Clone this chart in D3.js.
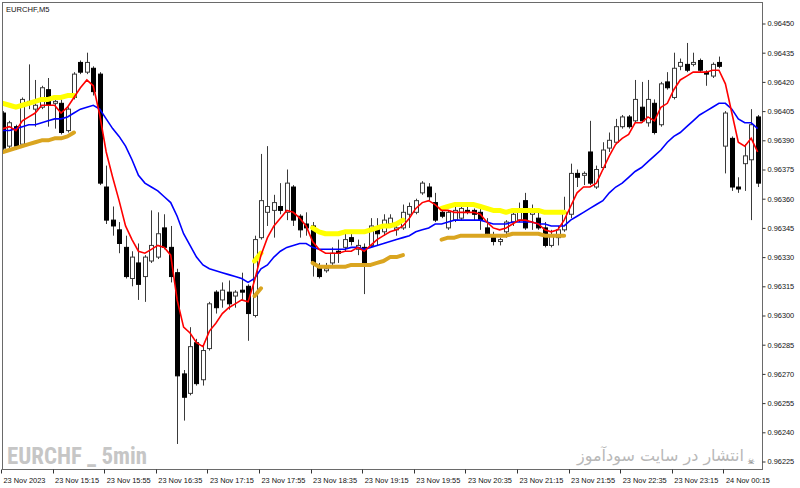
<!DOCTYPE html>
<html><head><meta charset="utf-8">
<script src="https://cdn.jsdelivr.net/npm/d3@7"></script>
<style>body{margin:0;background:#fff}svg{display:block}</style>
</head><body>
<svg id="chart" width="800" height="488"></svg>
<script>
// ---- DATA (EURCHF, M5) ----
const symbolTitle = "EURCHF,M5";
const open = [0.96404,0.96387,0.96397,0.96388,0.96409,0.96406,0.96407,0.96416,0.96409,0.96409,0.96395,0.96412,0.96430,0.96425,0.96427,0.96424,0.96366,0.96349,0.96344,0.96335,0.96319,0.96327,0.96320,0.96328,0.96330,0.96345,0.96335,0.96322,0.96270,0.96260,0.96286,0.96267,0.96283,0.96312,0.96308,0.96312,0.96310,0.96313,0.96315,0.96300,0.96340,0.96353,0.96354,0.96356,0.96353,0.96366,0.96351,0.96347,0.96346,0.96325,0.96323,0.96327,0.96333,0.96335,0.96340,0.96334,0.96335,0.96336,0.96345,0.96343,0.96347,0.96344,0.96345,0.96352,0.96353,0.96363,0.96366,0.96358,0.96353,0.96345,0.96349,0.96350,0.96354,0.96354,0.96353,0.96345,0.96340,0.96338,0.96343,0.96348,0.96349,0.96359,0.96352,0.96350,0.96345,0.96336,0.96340,0.96344,0.96352,0.96373,0.96372,0.96384,0.96366,0.96376,0.96386,0.96389,0.96397,0.96402,0.96400,0.96407,0.96399,0.96409,0.96398,0.96420,0.96412,0.96428,0.96429,0.96429,0.96431,0.96425,0.96423,0.96430,0.96387,0.96391,0.96366,0.96378,0.96380,0.96402];
const high = [0.96405,0.96400,0.96398,0.96412,0.96429,0.96421,0.96418,0.96422,0.96413,0.96411,0.96407,0.96425,0.96431,0.96435,0.96428,0.96425,0.96377,0.96356,0.96348,0.96341,0.96333,0.96337,0.96331,0.96354,0.96353,0.96352,0.96346,0.96324,0.96272,0.96294,0.96288,0.96285,0.96307,0.96313,0.96317,0.96318,0.96313,0.96322,0.96316,0.96341,0.96383,0.96387,0.96362,0.96368,0.96375,0.96367,0.96352,0.96353,0.96348,0.96327,0.96327,0.96335,0.96339,0.96342,0.96342,0.96339,0.96337,0.96350,0.96350,0.96352,0.96352,0.96348,0.96357,0.96358,0.96360,0.96369,0.96368,0.96363,0.96355,0.96354,0.96357,0.96357,0.96357,0.96355,0.96355,0.96350,0.96343,0.96340,0.96349,0.96354,0.96358,0.96363,0.96357,0.96353,0.96348,0.96344,0.96346,0.96361,0.96378,0.96375,0.96374,0.96400,0.96377,0.96389,0.96394,0.96401,0.96403,0.96403,0.96421,0.96420,0.96421,0.96411,0.96420,0.96425,0.96435,0.96432,0.96440,0.96435,0.96432,0.96426,0.96430,0.96433,0.96405,0.96392,0.96371,0.96388,0.96406,0.96403];
const low = [0.96385,0.96386,0.96385,0.96387,0.96406,0.96397,0.96406,0.96397,0.96396,0.96393,0.96394,0.96411,0.96424,0.96424,0.96413,0.96367,0.96347,0.96341,0.96332,0.96319,0.96315,0.96308,0.96307,0.96327,0.96329,0.96334,0.96317,0.96234,0.96246,0.96259,0.96264,0.96264,0.96282,0.96301,0.96304,0.96303,0.96304,0.96308,0.96287,0.96299,0.96339,0.96346,0.96340,0.96352,0.96349,0.96346,0.96340,0.96341,0.96320,0.96319,0.96322,0.96326,0.96327,0.96333,0.96336,0.96331,0.96311,0.96335,0.96336,0.96341,0.96345,0.96341,0.96344,0.96345,0.96352,0.96362,0.96359,0.96348,0.96350,0.96344,0.96348,0.96349,0.96352,0.96349,0.96344,0.96341,0.96336,0.96336,0.96340,0.96346,0.96348,0.96344,0.96344,0.96344,0.96335,0.96335,0.96336,0.96343,0.96350,0.96366,0.96367,0.96367,0.96365,0.96375,0.96384,0.96388,0.96396,0.96396,0.96399,0.96399,0.96397,0.96393,0.96397,0.96416,0.96411,0.96426,0.96425,0.96428,0.96425,0.96418,0.96422,0.96427,0.96373,0.96364,0.96363,0.96364,0.96349,0.96366];
const close = [0.96386,0.96399,0.96387,0.96411,0.96410,0.96408,0.96417,0.96408,0.96410,0.96394,0.96406,0.96424,0.96425,0.96430,0.96415,0.96368,0.96349,0.96346,0.96337,0.96320,0.96330,0.96316,0.96330,0.96336,0.96342,0.96335,0.96320,0.96269,0.96258,0.96284,0.96265,0.96282,0.96306,0.96304,0.96313,0.96306,0.96312,0.96312,0.96301,0.96339,0.96359,0.96356,0.96358,0.96354,0.96368,0.96349,0.96344,0.96345,0.96327,0.96320,0.96324,0.96332,0.96332,0.96339,0.96338,0.96336,0.96327,0.96346,0.96342,0.96349,0.96350,0.96345,0.96353,0.96356,0.96359,0.96368,0.96361,0.96349,0.96351,0.96353,0.96354,0.96355,0.96353,0.96352,0.96349,0.96342,0.96338,0.96339,0.96348,0.96352,0.96353,0.96345,0.96354,0.96345,0.96336,0.96341,0.96344,0.96353,0.96373,0.96371,0.96373,0.96368,0.96375,0.96385,0.96390,0.96397,0.96402,0.96397,0.96411,0.96400,0.96411,0.96394,0.96419,0.96417,0.96427,0.96430,0.96426,0.96430,0.96426,0.96424,0.96429,0.96428,0.96404,0.96366,0.96365,0.96382,0.96398,0.96368];
// fast MA (red) and slow MA (blue)
const fastMA = [0.96396,0.96397,0.96395,0.96400,0.96402,0.96404,0.96408,0.96408,0.96408,0.96404,0.96407,0.96412,0.96417,0.96421,0.96418,0.96403,0.96384,0.96371,0.96359,0.96346,0.96339,0.96333,0.96332,0.96334,0.96336,0.96335,0.96331,0.96308,0.96294,0.96291,0.96286,0.96284,0.96292,0.96296,0.96301,0.96304,0.96306,0.96308,0.96307,0.96318,0.96331,0.96340,0.96346,0.96350,0.96354,0.96353,0.96350,0.96346,0.96338,0.96334,0.96332,0.96332,0.96332,0.96333,0.96333,0.96335,0.96333,0.96336,0.96339,0.96341,0.96343,0.96344,0.96346,0.96350,0.96355,0.96358,0.96359,0.96357,0.96354,0.96354,0.96353,0.96353,0.96353,0.96353,0.96352,0.96348,0.96345,0.96344,0.96345,0.96347,0.96349,0.96349,0.96348,0.96347,0.96344,0.96343,0.96344,0.96349,0.96356,0.96363,0.96366,0.96366,0.96368,0.96375,0.96382,0.96388,0.96391,0.96393,0.96399,0.96399,0.96402,0.96400,0.96407,0.96409,0.96416,0.96421,0.96423,0.96425,0.96425,0.96425,0.96426,0.96426,0.96419,0.96404,0.96389,0.96387,0.96391,0.96384];
const slowMA = [0.96395,0.96395,0.96396,0.96397,0.96398,0.96398,0.96399,0.96400,0.96401,0.96401,0.96402,0.96404,0.96406,0.96407,0.96408,0.96406,0.96401,0.96396,0.96392,0.96387,0.96380,0.96372,0.96368,0.96366,0.96364,0.96361,0.96358,0.96351,0.96342,0.96336,0.96330,0.96326,0.96324,0.96323,0.96322,0.96321,0.96320,0.96319,0.96317,0.96319,0.96324,0.96326,0.96330,0.96333,0.96335,0.96336,0.96337,0.96337,0.96335,0.96334,0.96334,0.96334,0.96334,0.96334,0.96335,0.96335,0.96334,0.96335,0.96336,0.96337,0.96338,0.96339,0.96340,0.96341,0.96343,0.96344,0.96345,0.96347,0.96347,0.96348,0.96349,0.96349,0.96349,0.96349,0.96349,0.96348,0.96347,0.96347,0.96347,0.96348,0.96348,0.96348,0.96348,0.96347,0.96347,0.96346,0.96346,0.96346,0.96349,0.96351,0.96353,0.96355,0.96357,0.96359,0.96363,0.96366,0.96368,0.96371,0.96374,0.96376,0.96379,0.96382,0.96385,0.96389,0.96392,0.96394,0.96397,0.96400,0.96403,0.96405,0.96407,0.96409,0.96409,0.96406,0.96401,0.96399,0.96399,0.96396];
// flat-market band segments (yellow upper, gold lower); start = first bar index of segment
const bandStart = [0, 39, 48, 68];
const upperBand = [
  [0.96409,0.96408,0.96407,0.96408,0.96409,0.96410,0.96411,0.96411,0.96412,0.96412,0.96413,0.96413],
  [0.96328,0.96332],
  [0.96345,0.96343,0.96342,0.96342,0.96342,0.96343,0.96343,0.96343,0.96343,0.96344,0.96345,0.96346,0.96346,0.96347,0.96349],
  [0.96355,0.96356,0.96357,0.96357,0.96357,0.96357,0.96356,0.96355,0.96354,0.96354,0.96353,0.96354,0.96354,0.96354,0.96354,0.96354,0.96353,0.96353,0.96353,0.96353]
];
const lowerBand = [
  [0.96384,0.96385,0.96386,0.96387,0.96388,0.96389,0.96390,0.96390,0.96391,0.96391,0.96392,0.96394],
  [0.96310,0.96314],
  [0.96327,0.96325,0.96325,0.96325,0.96325,0.96325,0.96326,0.96326,0.96326,0.96326,0.96327,0.96328,0.96330,0.96330,0.96331],
  [0.96339,0.96340,0.96340,0.96341,0.96341,0.96341,0.96341,0.96341,0.96341,0.96341,0.96341,0.96342,0.96342,0.96342,0.96342,0.96342,0.96341,0.96341,0.96341,0.96341]
];
const priceTicks = [0.96225,0.96240,0.96255,0.96270,0.96285,0.96300,0.96315,0.96330,0.96345,0.96360,0.96375,0.96390,0.96405,0.96420,0.96435,0.96450];
const timeTickBars = [0,8,16,24,32,40,48,56,64,72,80,88,96,104,112];
const timeLabels = ["23 Nov 2023","23 Nov 15:15","23 Nov 15:55","23 Nov 16:35","23 Nov 17:15","23 Nov 17:55","23 Nov 18:35","23 Nov 19:15","23 Nov 19:55","23 Nov 20:35","23 Nov 21:15","23 Nov 21:55","23 Nov 22:35","23 Nov 23:15","24 Nov 00:15"];
const watermarkLeft = "EURCHF _ 5min";
const watermarkRight = "انتشار در سایت سودآموز";

// ---- CHART ----
const svg = d3.select("#chart");
const frame = {left:2.5, right:762.5, top:2.5, bottom:469.5};
const n = open.length;
const x = d3.scaleLinear().domain([0, n - 1]).range([3, 757.65]);
const y = d3.scaleLinear().domain([0.96225, 0.96450]).range([461.5, 23.5]);
const font = "'Liberation Sans', Arial, sans-serif";

svg.append("rect").attr("width",800).attr("height",488).attr("fill","#fff");

svg.append("defs").append("clipPath").attr("id","clip")
  .append("rect").attr("x",frame.left).attr("y",frame.top)
  .attr("width",frame.right-frame.left).attr("height",frame.bottom-frame.top);

// watermarks (behind data)
svg.append("text").attr("x",7).attr("y",464)
  .attr("font-family","'Liberation Sans Narrow','Roboto Condensed','Liberation Sans',Arial,sans-serif")
  .attr("font-weight","bold").attr("font-size",23).attr("fill","#c6c6c6")
  .attr("textLength",140).attr("lengthAdjust","spacingAndGlyphs")
  .text(watermarkLeft);
svg.append("text").attr("x",744).attr("y",461).attr("text-anchor","end")
  .attr("font-family","'DejaVu Sans','Noto Sans',sans-serif").attr("font-size",16)
  .attr("fill","#b8b8b8")
  .text(watermarkRight);
svg.append("text").attr("x",751).attr("y",464).attr("text-anchor","middle")
  .attr("font-family","'DejaVu Sans',sans-serif").attr("font-size",8).attr("fill","#666")
  .text("\u2620");

const g = svg.append("g").attr("clip-path","url(#clip)");
const bars = d3.range(n);
const bw = 4;

// wicks
g.selectAll("line.wick").data(bars).join("line")
  .attr("x1", i => Math.round(x(i)) + 0.5).attr("x2", i => Math.round(x(i)) + 0.5)
  .attr("y1", i => y(high[i])).attr("y2", i => y(low[i]))
  .attr("stroke", "#3a3a3a").attr("stroke-width", 1);
// bodies
g.selectAll("rect.body").data(bars).join("rect")
  .attr("x", i => Math.round(x(i)) + 0.5 - bw/2)
  .attr("y", i => y(Math.max(open[i], close[i])))
  .attr("width", bw)
  .attr("height", i => Math.max(1, Math.abs(y(open[i]) - y(close[i]))))
  .attr("fill", i => close[i] > open[i] ? "#fff" : "#000")
  .attr("stroke", i => close[i] > open[i] ? "#3a3a3a" : "#000")
  .attr("stroke-width", 1);

// bands
bandStart.forEach((s, k) => {
  const lineGen = d3.line().x((d, j) => x(s + j)).y(d => y(d));
  g.append("path").attr("d", lineGen(lowerBand[k])).attr("fill","none")
    .attr("stroke","#daa520").attr("stroke-width",4).attr("stroke-linecap","round").attr("stroke-linejoin","round");
  g.append("path").attr("d", lineGen(upperBand[k])).attr("fill","none")
    .attr("stroke","#ffff00").attr("stroke-width",5).attr("stroke-linecap","round").attr("stroke-linejoin","round");
});

// moving averages
const maLine = d3.line().x((d, i) => x(i)).y(d => y(d));
g.append("path").attr("d", maLine(slowMA)).attr("fill","none").attr("stroke","#0000ff").attr("stroke-width",1.6);
g.append("path").attr("d", maLine(fastMA)).attr("fill","none").attr("stroke","#ff0000").attr("stroke-width",1.6);

// frame
svg.append("rect").attr("x",frame.left).attr("y",frame.top)
  .attr("width",frame.right-frame.left).attr("height",frame.bottom-frame.top)
  .attr("fill","none").attr("stroke","#6a6a6a").attr("stroke-width",1);

// title
svg.append("text").attr("x",6).attr("y",12).attr("font-family",font).attr("font-size",7.6)
  .attr("fill","#111").text(symbolTitle);

// price axis
const yAxis = svg.append("g").attr("transform",`translate(${frame.right},0)`)
  .call(d3.axisRight(y).tickValues(priceTicks).tickFormat(d3.format(".5f")).tickSize(3).tickPadding(2));
yAxis.select(".domain").remove();
yAxis.selectAll(".tick line").attr("stroke","#333");
yAxis.selectAll(".tick text").attr("font-family",font).attr("font-size",7.4).attr("fill","#111");

// time axis
const tx = svg.append("g");
tx.selectAll("line").data(timeTickBars).join("line")
  .attr("x1", i => Math.round(x(i)) - 1.5).attr("x2", i => Math.round(x(i)) - 1.5)
  .attr("y1", frame.bottom).attr("y2", frame.bottom + 4).attr("stroke","#333");
tx.selectAll("text").data(timeTickBars).join("text")
  .attr("x", i => x(i) + 0.5).attr("y", 483)
  .attr("font-family",font).attr("font-size",7.4).attr("fill","#111")
  .text((d, k) => timeLabels[k]);
</script>
</body></html>
